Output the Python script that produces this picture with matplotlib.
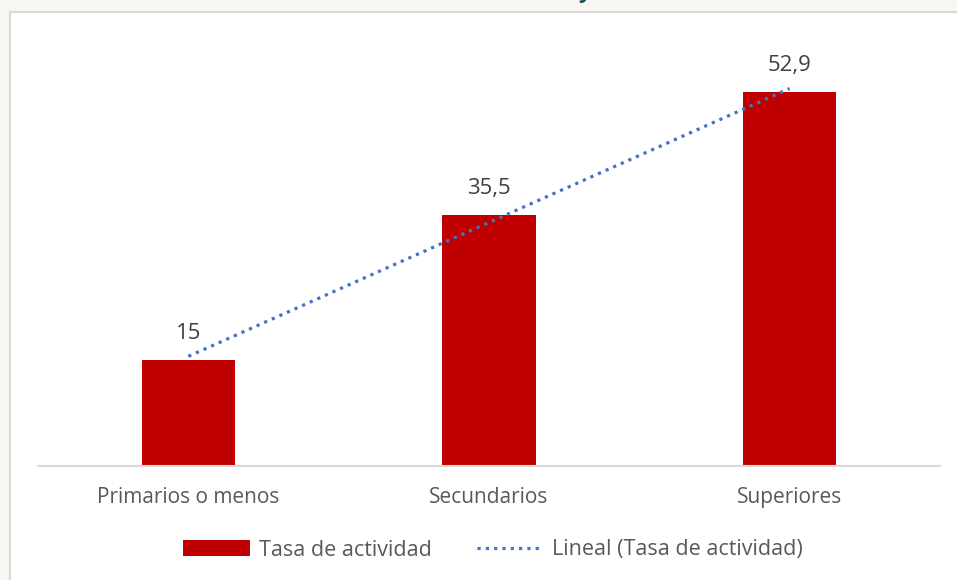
import numpy as np
import matplotlib
matplotlib.use("Agg")
import matplotlib.pyplot as plt
from matplotlib.patches import Rectangle
from matplotlib.lines import Line2D

categories = ["Primarios o menos", "Secundarios", "Superiores"]
values = [15, 35.5, 52.9]
value_labels = ["15", "35,5", "52,9"]
bar_label = "Tasa de actividad"
trend_label = "Lineal (Tasa de actividad)"

plt.rcParams['font.family'] = ['Open Sans', 'DejaVu Sans']

W, H = 957, 580
FS = 15
fig = plt.figure(figsize=(W / 100, H / 100), dpi=100)
fig.patch.set_facecolor("#f7f6f3")

# white panel
fig.patches.append(Rectangle((10 / W, -0.01), 1, (H - 12) / H + 0.01, transform=fig.transFigure,
                             facecolor="white", edgecolor="#d9d9d9", linewidth=1.5, zorder=-1))
# clipped title fragment (title lies above the visible area)
fig.text(584 / W, 1 + 2 / H, "y", color="#1f4e5f", fontsize=16, fontweight="bold",
         ha="center", va="baseline")

# axes: x from 38 to 940 px, y baseline 466 px, top at 42 px (ylim 0..60)
ax = fig.add_axes([38 / W, (H - 466) / H, (940 - 38) / W, (466 - 42) / H])
ax.set_zorder(2)
ax.set_facecolor("none")
x = np.arange(len(categories))
ax.bar(x, values, width=0.31, color="#c00000", zorder=2, label=bar_label)

# linear trend
xs = np.arange(1, len(values) + 1)
m, b = np.polyfit(xs, values, 1)
trend = m * xs + b
ax.plot(x, trend, linestyle=(0, (1, 1.6)), color="#4472c4", linewidth=2.3, zorder=3,
        label=trend_label)

for xi, v, lab in zip(x, values, value_labels):
    ax.annotate(lab, (xi, v), xytext=(0, 19), textcoords="offset points",
                ha="center", va="center", fontsize=16, color="#404040")

ax.set_xlim(-0.5, 2.5)
ax.set_ylim(0, 60)
ax.set_yticks([])
ax.set_xticks(x)
ax.set_xticklabels(categories, fontsize=FS, color="#595959")
ax.tick_params(axis="x", length=0, pad=15)
for s in ["top", "right", "left"]:
    ax.spines[s].set_visible(False)
ax.spines["bottom"].set_color("#d9d9d9")
ax.spines["bottom"].set_linewidth(1.5)

handles = [Rectangle((0, 0), 1, 1, facecolor="#c00000"),
           Line2D([0], [0], linestyle=(0, (1, 1.6)), color="#4472c4", linewidth=2.3)]
leg = fig.legend(handles, [bar_label, trend_label], loc="center",
                 bbox_to_anchor=(493 / W, (H - 550) / H), ncol=2, frameon=False,
                 fontsize=15.5, handlelength=3.1, handleheight=0.7, columnspacing=2.1,
                 handletextpad=0.4)
for t in leg.get_texts():
    t.set_color("#595959")

fig.savefig("out.png", dpi=100, facecolor=fig.get_facecolor())
